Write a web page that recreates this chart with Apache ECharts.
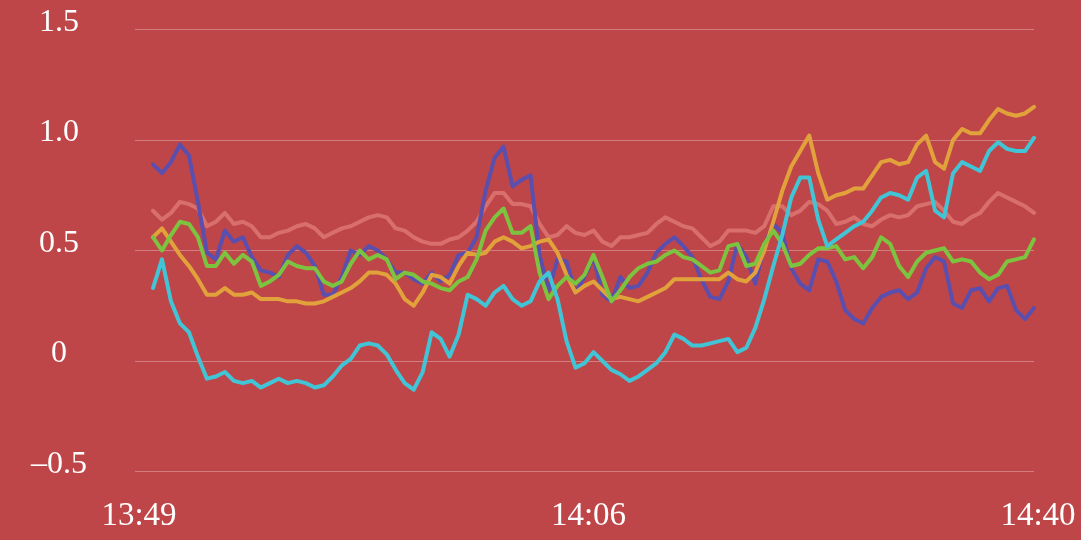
<!DOCTYPE html>
<html>
<head>
<meta charset="utf-8">
<title>Five lines</title>
<script src="https://cdn.jsdelivr.net/npm/echarts@6/dist/echarts.min.js"></script>
<style>
    html, body { margin: 0; padding: 0; background: #bf4648; }
    #chart { width: 1081px; height: 540px; }
</style>
</head>
<body>
<div id="chart"></div>
<script>
var xTickLabels = ['13:49', '14:06', '14:40'];
var yTickLabels = ['\u20130.5', '0', '0.5', '1.0', '1.5'];
var firstSample = 2; // first sample sits a little right of the axis start (0..100 scale)

var purple = [0.89, 0.85, 0.90, 0.98, 0.93, 0.72, 0.49, 0.46, 0.59, 0.54, 0.56, 0.47, 0.41, 0.40, 0.38, 0.48, 0.52,
    0.49, 0.43, 0.30, 0.30, 0.38, 0.50, 0.48, 0.52, 0.50, 0.46, 0.40, 0.40, 0.37, 0.35, 0.40, 0.36,
    0.39, 0.48, 0.49, 0.56, 0.77, 0.92, 0.97, 0.79, 0.82, 0.84, 0.48, 0.32, 0.46, 0.45, 0.31, 0.38,
    0.47, 0.30, 0.27, 0.38, 0.33, 0.34, 0.40, 0.49, 0.53, 0.56, 0.52, 0.47, 0.37, 0.29, 0.28, 0.36, 0.53,
    0.47, 0.35, 0.52, 0.62, 0.58, 0.42, 0.35, 0.32, 0.46, 0.45, 0.36, 0.23, 0.19, 0.17, 0.24, 0.29,
    0.31, 0.32, 0.28, 0.31, 0.42, 0.47, 0.45, 0.26, 0.24, 0.32, 0.33, 0.27, 0.33, 0.34, 0.23, 0.19, 0.24];

var cyan = [0.33, 0.46, 0.27, 0.17, 0.13, 0.02, -0.08, -0.07, -0.05, -0.09, -0.10, -0.09, -0.12, -0.10, -0.08, -0.10, -0.09,
    -0.10, -0.12, -0.11, -0.07, -0.02, 0.01, 0.07, 0.08, 0.07, 0.03, -0.04, -0.10, -0.13, -0.05, 0.13, 0.10,
    0.02, 0.12, 0.30, 0.28, 0.25, 0.31, 0.34, 0.28, 0.25, 0.27, 0.36, 0.40, 0.28, 0.09, -0.03, -0.01,
    0.04, 0.00, -0.04, -0.06, -0.09, -0.07, -0.04, -0.01, 0.04, 0.12, 0.10, 0.07, 0.07, 0.08, 0.09, 0.10, 0.04,
    0.06, 0.15, 0.28, 0.43, 0.57, 0.74, 0.83, 0.83, 0.64, 0.52, 0.55, 0.58, 0.61, 0.63, 0.68, 0.74,
    0.76, 0.75, 0.73, 0.83, 0.86, 0.68, 0.65, 0.85, 0.90, 0.88, 0.86, 0.95, 0.99, 0.96, 0.95, 0.95, 1.01];

var orange = [0.56, 0.60, 0.54, 0.48, 0.43, 0.37, 0.30, 0.30, 0.33, 0.30, 0.30, 0.31, 0.28, 0.28, 0.28, 0.27, 0.27,
    0.26, 0.26, 0.27, 0.29, 0.31, 0.33, 0.36, 0.40, 0.40, 0.39, 0.35, 0.28, 0.25, 0.31, 0.39, 0.38,
    0.35, 0.43, 0.49, 0.48, 0.49, 0.54, 0.56, 0.54, 0.51, 0.52, 0.54, 0.55, 0.49, 0.39, 0.31, 0.34,
    0.36, 0.32, 0.28, 0.29, 0.28, 0.27, 0.29, 0.31, 0.33, 0.37, 0.37, 0.37, 0.37, 0.37, 0.37, 0.40, 0.37,
    0.36, 0.40, 0.50, 0.63, 0.77, 0.88, 0.95, 1.02, 0.85, 0.73, 0.75, 0.76, 0.78, 0.78, 0.84, 0.90,
    0.91, 0.89, 0.90, 0.98, 1.02, 0.90, 0.87, 1.00, 1.05, 1.03, 1.03, 1.09, 1.14, 1.12, 1.11, 1.12, 1.15];

var green = [0.56, 0.50, 0.57, 0.63, 0.62, 0.56, 0.43, 0.43, 0.49, 0.44, 0.48, 0.45, 0.34, 0.36, 0.39, 0.45, 0.43,
    0.42, 0.42, 0.36, 0.34, 0.36, 0.44, 0.50, 0.46, 0.48, 0.46, 0.37, 0.40, 0.39, 0.36, 0.35, 0.33,
    0.32, 0.36, 0.38, 0.46, 0.59, 0.65, 0.69, 0.58, 0.58, 0.61, 0.40, 0.28, 0.34, 0.38, 0.35, 0.39,
    0.48, 0.38, 0.27, 0.32, 0.38, 0.42, 0.44, 0.45, 0.48, 0.50, 0.47, 0.46, 0.43, 0.40, 0.41, 0.52, 0.53,
    0.43, 0.44, 0.53, 0.59, 0.53, 0.43, 0.44, 0.48, 0.51, 0.51, 0.52, 0.46, 0.47, 0.42, 0.47, 0.56,
    0.53, 0.43, 0.38, 0.45, 0.49, 0.50, 0.51, 0.45, 0.46, 0.45, 0.40, 0.37, 0.39, 0.45, 0.46, 0.47, 0.55];

var pink = [0.68, 0.64, 0.67, 0.72, 0.71, 0.69, 0.61, 0.63, 0.67, 0.62, 0.63, 0.61, 0.56, 0.56, 0.58, 0.59, 0.61,
    0.62, 0.60, 0.56, 0.58, 0.60, 0.61, 0.63, 0.65, 0.66, 0.65, 0.60, 0.59, 0.56, 0.54, 0.53, 0.53,
    0.55, 0.56, 0.59, 0.63, 0.70, 0.76, 0.76, 0.71, 0.71, 0.70, 0.62, 0.56, 0.57, 0.61, 0.58, 0.57,
    0.59, 0.54, 0.52, 0.56, 0.56, 0.57, 0.58, 0.62, 0.65, 0.63, 0.61, 0.60, 0.56, 0.52, 0.54, 0.59, 0.59,
    0.59, 0.58, 0.61, 0.70, 0.70, 0.66, 0.68, 0.72, 0.71, 0.68, 0.62, 0.63, 0.65, 0.62, 0.61, 0.64,
    0.66, 0.65, 0.66, 0.70, 0.71, 0.72, 0.68, 0.63, 0.62, 0.65, 0.67, 0.72, 0.76, 0.74, 0.72, 0.70, 0.67];


function toPoints(values) {
    return values.map(function (v, i) {
        return [firstSample + i, v];
    });
}

function lineSeries(name, values, color) {
    return {
        name: name,
        type: 'line',
        data: toPoints(values),
        showSymbol: false,
        symbol: 'none',
        lineStyle: { color: color, width: 4, join: 'round', cap: 'round' },
        itemStyle: { color: color }
    };
}

var myChart = echarts.init(document.getElementById('chart'));

var option = {
    backgroundColor: '#bf4648',
    animation: false,
    grid: { left: 135, right: 47, top: 29.5, bottom: 68.5, outerBoundsMode: 'none', containLabel: false },
    textStyle: { fontFamily: '"Liberation Serif", serif' },
    xAxis: {
        type: 'value',
        min: 0,
        max: 100,
        interval: 50,
        axisLine: { show: false },
        axisTick: { show: false },
        splitLine: { show: false },
        axisLabel: {
            color: '#ffffff',
            fontFamily: '"Liberation Serif", serif',
            fontSize: 33,
            margin: 28,
            padding: [0, 0, 0, 8],
            showMinLabel: true,
            showMaxLabel: true,
            formatter: function (value) {
                return xTickLabels[Math.round(value / 50)];
            }
        }
    },
    yAxis: {
        type: 'value',
        min: -0.5,
        max: 1.5,
        interval: 0.5,
        axisLine: { show: false },
        axisTick: { show: false },
        splitLine: { lineStyle: { color: 'rgba(255,255,255,0.3)', width: 1 } },
        axisLabel: {
            color: '#ffffff',
            fontFamily: '"Liberation Serif", serif',
            fontSize: 32,
            align: 'center',
            verticalAlign: 'bottom',
            lineHeight: 14,
            margin: 76,
            formatter: function (value) {
                return yTickLabels[Math.round((value + 0.5) / 0.5)];
            }
        }
    },
    series: [
        lineSeries('pink', pink, '#d96f6d'),
        lineSeries('purple', purple, '#5a4fae'),
        lineSeries('orange', orange, '#e2a23b'),
        lineSeries('green', green, '#7cc440'),
        lineSeries('cyan', cyan, '#41c4d5')
    ]
};

option && myChart.setOption(option);

window.onresize = function () {
    myChart.resize();
};
</script>
</body>
</html>
